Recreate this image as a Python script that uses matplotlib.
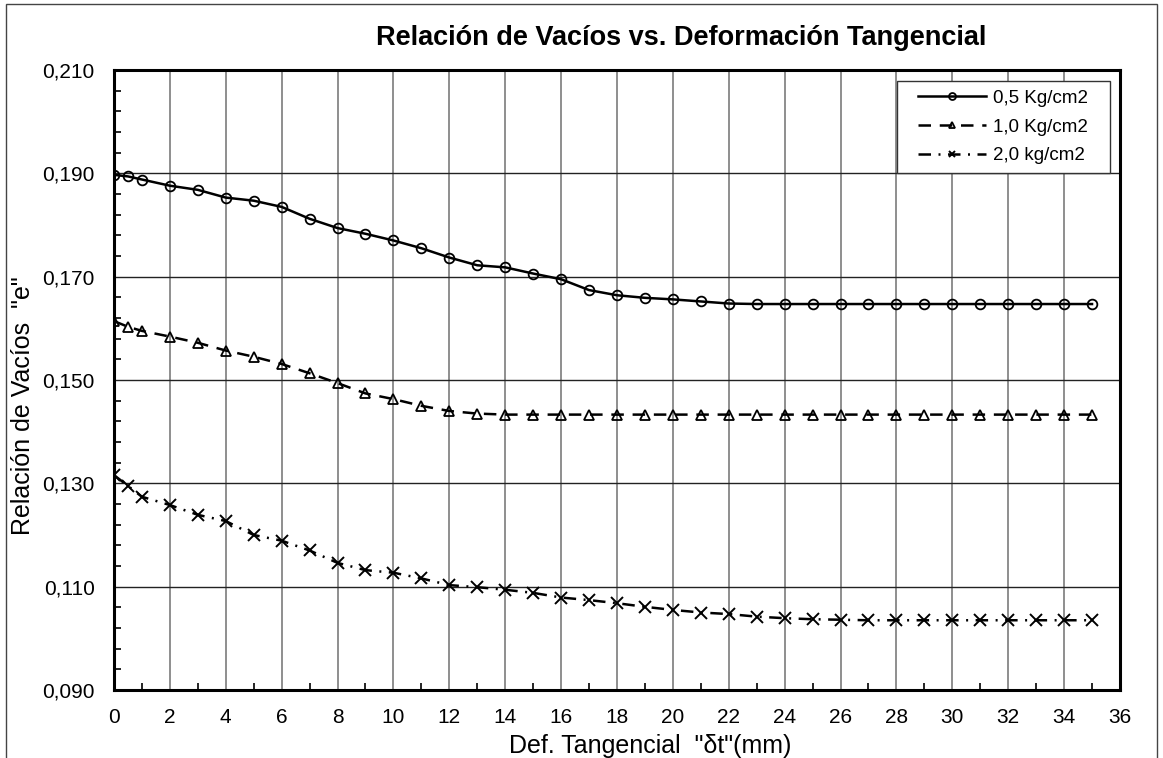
import numpy as np
import matplotlib.pyplot as plt
from matplotlib.ticker import FixedLocator, MultipleLocator, FuncFormatter
from matplotlib.patches import Rectangle

plt.rcParams['font.family'] = ['Liberation Sans', 'DejaVu Sans']

# deformacion tangencial (mm)
dt = [0, 0.5, 1, 2, 3, 4, 5, 6, 7, 8, 9, 10, 11, 12, 13, 14, 15, 16, 17, 18,
      19, 20, 21, 22, 23, 24, 25, 26, 27, 28, 29, 30, 31, 32, 33, 34, 35]

# relacion de vacios "e" para cada carga normal
e_05 = [0.1897, 0.1894, 0.1888, 0.1876, 0.1868, 0.1853, 0.1847, 0.1835, 0.1812, 0.1794,
        0.1783, 0.1770, 0.1755, 0.1737, 0.1722, 0.1718, 0.1706, 0.1695, 0.1674, 0.1664,
        0.1659, 0.1656, 0.1652, 0.1648, 0.1647, 0.1647, 0.1647, 0.1647, 0.1647, 0.1647,
        0.1647, 0.1647, 0.1647, 0.1647, 0.1647, 0.1647, 0.1647]
e_10 = [0.1614, 0.1603, 0.1595, 0.1584, 0.1572, 0.1557, 0.1545, 0.1531, 0.1513, 0.1494,
        0.1474, 0.1463, 0.1450, 0.1440, 0.1435, 0.1433, 0.1433, 0.1433, 0.1433, 0.1433,
        0.1433, 0.1433, 0.1433, 0.1433, 0.1433, 0.1433, 0.1433, 0.1433, 0.1433, 0.1433,
        0.1433, 0.1433, 0.1433, 0.1433, 0.1433, 0.1433, 0.1433]
e_20 = [0.1316, 0.1295, 0.1274, 0.1258, 0.1239, 0.1227, 0.1200, 0.1189, 0.1170, 0.1146,
        0.1132, 0.1127, 0.1116, 0.1103, 0.1099, 0.1094, 0.1088, 0.1079, 0.1074, 0.1068,
        0.1061, 0.1055, 0.1050, 0.1047, 0.1042, 0.1039, 0.1037, 0.1036, 0.1035, 0.1035,
        0.1035, 0.1035, 0.1035, 0.1035, 0.1035, 0.1035, 0.1035]

labels = ['0,5 Kg/cm2', '1,0 Kg/cm2', '2,0 kg/cm2']
y_major = [0.090, 0.110, 0.130, 0.150, 0.170, 0.190, 0.210]

fig = plt.figure(figsize=(11.63, 7.58), dpi=100)
fig.patches.append(Rectangle((0.005, -0.05), 0.99, 1.045, transform=fig.transFigure,
                             fill=False, edgecolor='#444444', linewidth=1))
ax = fig.add_axes([0.098, 0.0897, 0.865, 0.818])

ax.plot(dt, e_05, color='black', lw=1.8, marker='o', ms=7, mfc='none', mew=1.3,
        label=labels[0])
ax.plot(dt, e_10, color='black', lw=1.8, ls=(0, (5, 3.5)), marker='^', ms=6.5, mfc='none',
        mew=1.3, label=labels[1])
ax.plot(dt, e_20, color='black', lw=1.8, ls=(0, (5, 3, 0.8, 3)), marker='x', ms=8.5,
        mew=1.4, label=labels[2])

ax.set_xlim(0, 36)
ax.set_ylim(0.090, 0.210)
ax.xaxis.set_major_locator(MultipleLocator(2))
ax.xaxis.set_minor_locator(MultipleLocator(1))
ax.yaxis.set_major_locator(FixedLocator(y_major))
ax.yaxis.set_minor_locator(FixedLocator(np.arange(0.090, 0.2101, 0.004)))
ax.yaxis.set_major_formatter(FuncFormatter(lambda v, p: f'{v:.3f}'.replace('.', ',')))

ax.tick_params(axis='both', which='major', direction='in', length=0, labelsize=15)
ax.tick_params(axis='x', which='major', pad=13)
ax.tick_params(axis='y', which='major', pad=14)
ax.tick_params(axis='both', which='minor', direction='in', length=5, width=1.2)
ax.xaxis.grid(True, which='major', color='#707070', lw=1.1)
ax.yaxis.grid(True, which='major', color='#222222', lw=1)
for s in ax.spines.values():
    s.set_linewidth(2.2)
    s.set_zorder(3)

ax.set_title('Relación de Vacíos vs. Deformación Tangencial', fontsize=19.5,
             fontweight='bold', pad=18, x=0.564)
ax.set_xlabel('Def. Tangencial  "δt"(mm)', fontsize=18, labelpad=5, x=0.533)
ax.set_ylabel('Relación de Vacíos  "e"', fontsize=18, labelpad=5, y=0.458)

# leyenda sin marco propio; el recuadro se dibuja aparte
ax.add_patch(Rectangle((0.778, 0.834), 0.212, 0.148, transform=ax.transAxes,
                       facecolor='white', edgecolor='#333333', lw=1, zorder=4))
leg = ax.legend(loc='center', bbox_to_anchor=(0.884, 0.908), borderaxespad=0,
                fontsize=13.5, handlelength=3.6, handletextpad=0.4, frameon=False,
                borderpad=0, labelspacing=0.62)
leg.set_zorder(5)
for h in leg.legend_handles:
    h.set_markersize(5)
    h.set_linewidth(1.8)

fig.savefig('out.png', dpi=100)
